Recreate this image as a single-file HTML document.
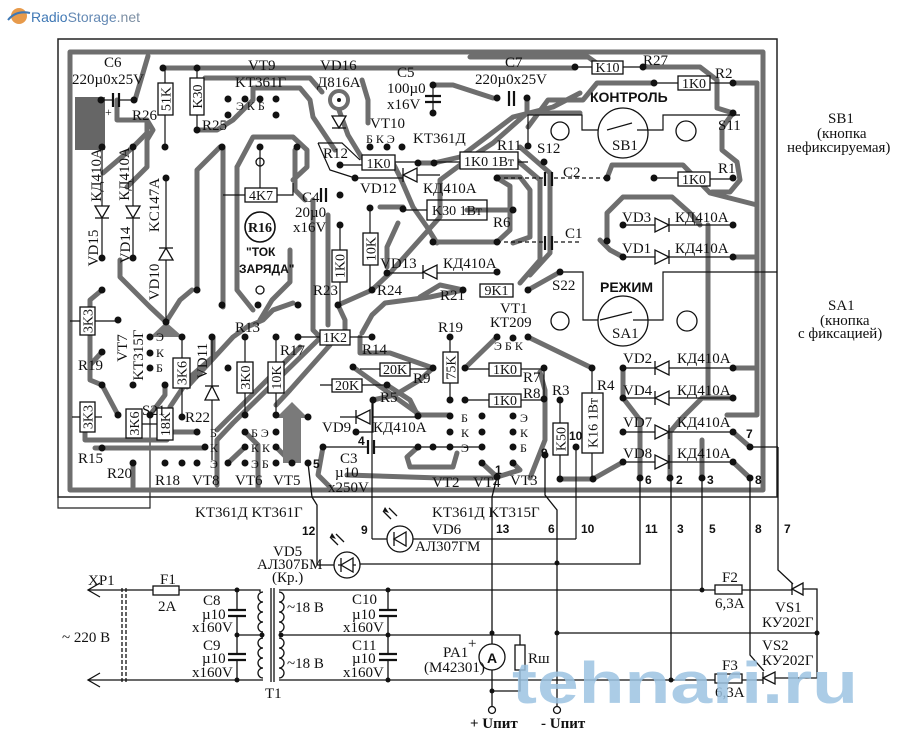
<!DOCTYPE html>
<html><head><meta charset="utf-8"><style>
html,body{margin:0;padding:0;background:#fff}
svg{display:block}
.t{font-family:"Liberation Serif","DejaVu Serif",serif;font-size:15px;fill:#111}
.s{font-family:"Liberation Serif","DejaVu Serif",serif;font-size:12px;fill:#111}
.b{font-family:"Liberation Sans","DejaVu Sans",sans-serif;font-weight:bold;font-size:14px;fill:#111}
.n{font-family:"Liberation Sans","DejaVu Sans",sans-serif;font-weight:bold;font-size:12px;fill:#111}
</style></head><body>
<svg width="909" height="737" viewBox="0 0 909 737" xmlns="http://www.w3.org/2000/svg">
<rect width="909" height="737" fill="#fff"/>
<!-- logo -->
<circle cx="19" cy="16" r="8" fill="#e79a4b"/>
<path d="M8,20 Q16,10 30,13" stroke="#3f78b5" stroke-width="2" fill="none"/>
<text x="31" y="22" font-family="Liberation Sans, sans-serif" font-size="14"><tspan fill="#3f78b5">Radio</tspan><tspan fill="#6489b4">Storage</tspan><tspan fill="#7d8fa3">.net</tspan></text>

<!-- board outline -->
<rect x="58" y="39" width="719" height="458" fill="none" stroke="#222" stroke-width="1.5"/>
<path d="M58,497 V508 H150 V415" fill="none" stroke="#222" stroke-width="1.2"/>
<rect x="75" y="97" width="30" height="53" fill="#666"/>

<!-- traces -->
<g fill="none" stroke="#6e6e6e" stroke-width="5" stroke-linejoin="round" stroke-linecap="round">
<rect x="70" y="52" width="693" height="438"/>
<path d="M757,83 V415 H727"/>
<path d="M733,83 H757"/>
<path d="M148,56 L135,100"/>
<path d="M163,68 H575"/>
<path d="M470,57 H588 L598,64"/>
<path d="M643,67 H700 L717,80 V108 L733,113"/>
<path d="M733,113 L722,128 V150 L737,162 L740,180 L730,192 H712"/>
<path d="M205,78 H310 L322,92"/>
<path d="M197,130 H217 L233,120 L253,100 V88 H300 L310,100 L313,117 L325,135 L335,150"/>
<path d="M654,83 H597 L583,100 L548,100 L528,127"/>
<circle cx="339" cy="100" r="9" stroke-width="4"/>
<path d="M339,110 L348,135 L362,158"/>
<path d="M433,85 H453 L493,98"/>
<path d="M527,100 V113 L493,143 L467,160"/>
<path d="M580,93 L553,107 L513,117 L460,157 L434,163"/>
<path d="M418,163 H434"/>
<path d="M390,273 L440,217 V180 L467,160"/>
<path d="M433,242 H497"/>
<path d="M467,210 H513"/>
<path d="M520,147 L550,173 V253 L530,275"/>
<path d="M513,157 L540,180 V260 L520,283"/>
<path d="M497,178 L510,186 V230 L497,242"/>
<path d="M607,178 L612,165 H683 L710,193 L757,205"/>
<path d="M607,240 V213 L623,197 H672 L690,213 L700,225"/>
<path d="M623,257 L610,250 L600,240"/>
<path d="M733,257 H757"/>
<path d="M733,368 H757"/>
<path d="M733,398 H702 L680,420 L670,432 V478"/>
<path d="M708,225 V398"/>
<path d="M623,398 L640,420 V478"/>
<path d="M623,368 V398"/>
<path d="M702,440 V478"/>
<path d="M733,432 L750,447"/>
<path d="M733,462 L750,478"/>
<path d="M560,479 H593 L623,462"/>
<path d="M528,337 L592,368"/>
<path d="M497,337 L465,368"/>
<path d="M540,372 L545,390 V440 L530,478"/>
<path d="M463,290 L430,297 L385,303 L372,315 L362,333"/>
<path d="M528,290 L560,272"/>
<path d="M360,337 V353 H390 L433,368"/>
<path d="M353,367 L420,415 H450"/>
<path d="M418,447 L407,457 L410,467 H453 L457,453"/>
<path d="M347,475 L440,478 H493"/>
<path d="M482,463 L497,477"/>
<path d="M513,463 L520,470 L497,477"/>
<path d="M133,147 L147,133 V120"/>
<path d="M103,173 L130,150"/>
<path d="M117,100 V120 H147 L153,130 L147,140 V167 L127,187"/>
<path d="M120,260 V277 L150,307 L166,322"/>
<path d="M197,290 V170 L220,147"/>
<path d="M223,147 V307"/>
<path d="M237,167 L253,137 H293 L307,150 V167 L293,180"/>
<path d="M237,167 V290 L253,310"/>
<path d="M290,250 V282 L272,300 L260,320"/>
<path d="M313,200 V330 L320,337"/>
<path d="M328,215 V325"/>
<path d="M338,305 L372,290"/>
<path d="M372,290 L390,273"/>
<path d="M318,340 L233,423 L217,440 V485"/>
<path d="M300,347 L217,430"/>
<path d="M330,345 L290,390 L276,405"/>
<path d="M187,387 L233,337 L247,327 L263,320 L273,310 L293,303"/>
<path d="M170,407 L190,377 L213,357 V337"/>
<path d="M102,385 L118,415"/>
<path d="M85,432 V440 H167"/>
<path d="M95,448 H205"/>
<path d="M167,432 H197"/>
<path d="M133,463 V487"/>
<path d="M102,290 L90,300 V380 L102,385"/>
<path d="M166,322 L180,300 L192,290"/>
<path d="M245,432 L258,445 V487"/>
<path d="M228,463 L245,447"/>
<path d="M292,463 L276,447"/>
<path d="M323,447 L318,475 L330,487"/>
<path d="M373,400 L395,395 L420,380 L433,368"/>
<path d="M387,385 L410,400 L418,416"/>
<path d="M338,305 L345,320 V330"/>
<path d="M102,352 L90,365"/>
<path d="M150,415 L165,395 V385"/>
<path d="M362,80 L368,100 V123"/>
<path d="M390,157 L400,177 L413,207 L427,227 L437,243"/>
<path d="M497,177 H520 L530,190 V237 L513,243"/>
<path d="M537,113 H580"/>
<path d="M380,207 H403"/>
<path d="M398,223 L387,247 V267"/>
<path d="M295,150 V190 L305,200"/>
<path d="M420,297 L440,285 L463,290"/>
</g>
<!-- gray filled shapes -->
<polygon points="283,463 283,418 276,418 292,402 308,418 301,418 301,463" fill="#7a7a7a"/>
<polygon points="150,337 166,322 183,337" fill="#7a7a7a"/>

<!-- thin wires on board -->
<g fill="none" stroke="#111" stroke-width="1.2">
<path d="M118,100 H134"/><path d="M101,100 H113"/>
<path d="M102,147 V258"/><path d="M133,147 V258"/>
<path d="M166,178 V322"/>
<path d="M212,337 V460"/>
<path d="M182,337 V358 M182,388 V417"/>
<path d="M165,115 V147 M165,68 V83"/>
<path d="M197,68 V78 M197,115 V130"/>
<path d="M260,147 V188"/><path d="M223,195 H245 M277,195 H293 V183"/>
<path d="M245,337 V362 M245,393 V415"/>
<path d="M276,337 V362 M276,393 V415"/>
<path d="M340,225 V250 M340,282 V305"/>
<path d="M370,208 V233 M370,265 V290"/>
<path d="M350,337 H372 M298,337 H320"/>
<path d="M360,369 H380 M410,369 H433"/>
<path d="M320,385 H332 M362,385 H387"/>
<path d="M450,337 V352 M450,383 V400"/>
<path d="M465,369 H489 M521,369 H544"/>
<path d="M465,400 H489 M521,400 H544 V368"/>
<path d="M560,400 V423 M560,455 V479"/>
<path d="M592,368 V393 M592,453 V479"/>
<path d="M576,447 V539"/>
<path d="M372,400 V539"/>
<path d="M323,447 H368 M373,447 H482"/>
<path d="M373,400 V432 L356,432"/>
<path d="M340,417 H356 M372,417 H420"/>
<path d="M387,273 H423 M437,273 H497"/>
<path d="M355,178 H403 M417,175 H440"/>
<path d="M340,165 H362 M395,162 H418"/>
<path d="M318,143 H342 L360,160 M318,143 L330,170 L355,178"/>
<path d="M433,85 V113"/>
<path d="M513,162 H528 M433,162 H460"/>
<path d="M427,210 H403"/>
<path d="M497,242 H545 M554,242 H580" stroke-dasharray="4 3"/>
<path d="M497,178 H545 M554,178 H607" stroke-dasharray="4 3"/>
<path d="M623,225 H655 M669,225 H733"/>
<path d="M623,257 H655 M669,257 H733"/>
<path d="M623,368 H655 M669,368 H733"/>
<path d="M623,398 H655 M669,398 H733"/>
<path d="M623,432 H655 M669,432 H733"/>
<path d="M623,462 H655 M669,462 H733"/>
<path d="M654,178 H678 M710,179 H733"/>
<path d="M654,83 H678 M710,83 H733"/>
<path d="M575,67 H592 M623,67 H643"/>
<path d="M528,147 V115 H582 V130 H598 M607,130 L632,123 M637,130 H663 V115 H740"/>
<path d="M560,272 H583 V320 H598 M600,320 L632,312 M633,320 H663 V272 H777"/>
<path d="M750,447 H778"/>
<path d="M80,321 H70 M95,321 H118 M80,417 H72 M95,417 H102 M134,424 H150 M142,424 L157,424"/>
</g>
<!-- capacitors on board -->
<g stroke="#111" stroke-width="2.2">
<path d="M113,93 V107 M119,93 V107"/>
<path d="M509,91 V106 M514,91 V106"/>
<path d="M425,96 H441 M425,102 H441"/>
<path d="M545,236 V250 M552,236 V250"/>
<path d="M545,172 V186 M552,172 V186"/>
<path d="M321,188 V202 M326,188 V202"/>
<path d="M368,440 V454 M374,440 V454"/>
</g>
<!-- diodes -->
<g fill="#fff" stroke="#111" stroke-width="1.3">
<polygon points="95,206 109,206 102,218"/><path d="M95,218 H109"/>
<polygon points="126,206 140,206 133,218"/><path d="M126,218 H140"/>
<polygon points="159,260 173,260 166,248"/><path d="M159,248 H173"/>
<polygon points="205,400 219,400 212,386"/><path d="M205,386 H219"/>
<polygon points="332,116 346,116 339,128"/><path d="M332,128 H346"/>
<polygon points="417,168 417,182 403,175"/><path d="M403,168 V182"/>
<polygon points="437,265 437,279 423,272"/><path d="M423,265 V279"/>
<polygon points="370,410 370,424 356,417"/><path d="M356,410 V424"/>
<polygon points="655,218 655,232 669,225"/><path d="M669,218 V232"/>
<polygon points="655,250 655,264 669,257"/><path d="M669,250 V264"/>
<polygon points="669,361 669,375 655,368"/><path d="M655,361 V375"/>
<polygon points="669,391 669,405 655,398"/><path d="M655,391 V405"/>
<polygon points="655,425 655,439 669,432"/><path d="M669,425 V439"/>
<polygon points="655,455 655,469 669,462"/><path d="M669,455 V469"/>
</g>
<!-- switches / circles -->
<g fill="none" stroke="#111" stroke-width="1.3">
<circle cx="623" cy="133" r="25"/><circle cx="560" cy="131" r="9"/><circle cx="686" cy="131" r="10"/>
<circle cx="623" cy="321" r="25"/><circle cx="560" cy="321" r="9"/><circle cx="687" cy="321" r="10"/>
<circle cx="260" cy="227" r="15" stroke-width="1.6"/>
<circle cx="260" cy="162" r="4"/><circle cx="260" cy="290" r="4"/>
</g>
<!-- component rects -->
<g fill="#fff" stroke="#111" stroke-width="1.3">
<rect x="592" y="61" width="31" height="13"/>
<rect x="678" y="76" width="32" height="14"/>
<rect x="678" y="172" width="32" height="14"/>
<rect x="362" y="155" width="33" height="15"/>
<rect x="460" y="152" width="58" height="17"/>
<rect x="427" y="200" width="60" height="20" fill="none"/>
<rect x="245" y="188" width="32" height="14"/>
<rect x="480" y="284" width="33" height="13"/>
<rect x="320" y="330" width="30" height="15"/>
<rect x="380" y="363" width="30" height="13"/>
<rect x="332" y="379" width="30" height="13"/>
<rect x="489" y="363" width="32" height="13"/>
<rect x="489" y="394" width="32" height="13"/>
<rect x="158" y="83" width="15" height="32"/>
<rect x="190" y="78" width="14" height="37"/>
<rect x="80" y="307" width="15" height="28"/>
<rect x="80" y="402" width="15" height="30"/>
<rect x="126" y="409" width="16" height="29"/>
<rect x="157" y="408" width="16" height="32"/>
<rect x="173" y="358" width="17" height="30"/>
<rect x="237" y="362" width="16" height="31"/>
<rect x="268" y="362" width="16" height="31"/>
<rect x="332" y="250" width="15" height="32"/>
<rect x="363" y="233" width="15" height="32"/>
<rect x="443" y="352" width="15" height="31"/>
<rect x="553" y="423" width="15" height="32"/>
<rect x="582" y="393" width="21" height="60"/>
</g>
<!-- pads -->
<g fill="#111">
<circle cx="101" cy="100" r="3.5"/><circle cx="134" cy="100" r="3.5"/><circle cx="163" cy="68" r="3.5"/><circle cx="197" cy="68" r="3.5"/><circle cx="197" cy="130" r="3.5"/><circle cx="165" cy="147" r="3.5"/>
<circle cx="228" cy="99" r="3.5"/><circle cx="245" cy="99" r="3.5"/><circle cx="260" cy="99" r="3.5"/><circle cx="276" cy="99" r="3.5"/><circle cx="228" cy="115" r="3.5"/><circle cx="276" cy="115" r="3.5"/>
<circle cx="102" cy="147" r="3.5"/><circle cx="133" cy="147" r="3.5"/><circle cx="166" cy="178" r="3.5"/><circle cx="222" cy="147" r="3.5"/><circle cx="260" cy="147" r="3.5"/><circle cx="297" cy="147" r="3.5"/>
<circle cx="102" cy="258" r="3.5"/><circle cx="133" cy="258" r="3.5"/><circle cx="102" cy="290" r="3.5"/><circle cx="118" cy="320" r="3.5"/><circle cx="102" cy="352" r="3.5"/>
<circle cx="150" cy="337" r="3.5"/><circle cx="150" cy="353" r="3.5"/><circle cx="150" cy="368" r="3.5"/><circle cx="182" cy="337" r="3.5"/><circle cx="166" cy="322" r="3.5"/>
<circle cx="102" cy="385" r="3.5"/><circle cx="133" cy="385" r="3.5"/><circle cx="165" cy="385" r="3.5"/><circle cx="118" cy="415" r="3.5"/><circle cx="150" cy="415" r="3.5"/><circle cx="182" cy="417" r="3.5"/>
<circle cx="102" cy="448" r="3.5"/><circle cx="133" cy="463" r="3.5"/><circle cx="165" cy="463" r="3.5"/><circle cx="182" cy="463" r="3.5"/><circle cx="197" cy="432" r="3.5"/><circle cx="205" cy="447" r="3.5"/><circle cx="197" cy="463" r="3.5"/>
<circle cx="212" cy="337" r="3.5"/><circle cx="197" cy="290" r="3.5"/><circle cx="222" cy="305" r="3.5"/><circle cx="228" cy="368" r="3.5"/><circle cx="245" cy="337" r="3.5"/><circle cx="245" cy="415" r="3.5"/>
<circle cx="276" cy="337" r="3.5"/><circle cx="276" cy="415" r="3.5"/><circle cx="258" cy="305" r="3.5"/><circle cx="298" cy="305" r="3.5"/><circle cx="298" cy="337" r="3.5"/>
<circle cx="245" cy="432" r="3.5"/><circle cx="245" cy="447" r="3.5"/><circle cx="245" cy="463" r="3.5"/><circle cx="228" cy="463" r="3.5"/><circle cx="276" cy="432" r="3.5"/><circle cx="276" cy="447" r="3.5"/><circle cx="276" cy="463" r="3.5"/><circle cx="292" cy="463" r="3.5"/><circle cx="308" cy="417" r="3.5"/><circle cx="308" cy="463" r="3.5"/>
<circle cx="338" cy="305" r="3.5"/><circle cx="372" cy="290" r="3.5"/><circle cx="387" cy="273" r="3.5"/><circle cx="497" cy="272" r="3.5"/><circle cx="340" cy="195" r="3.5"/><circle cx="340" cy="225" r="3.5"/><circle cx="370" cy="208" r="3.5"/><circle cx="372" cy="337" r="3.5"/>
<circle cx="323" cy="447" r="3.5"/><circle cx="373" cy="400" r="3.5"/><circle cx="356" cy="432" r="3.5"/><circle cx="353" cy="367" r="3.5"/><circle cx="387" cy="385" r="3.5"/><circle cx="433" cy="368" r="3.5"/><circle cx="450" cy="337" r="3.5"/><circle cx="465" cy="368" r="3.5"/>
<circle cx="497" cy="337" r="3.5"/><circle cx="513" cy="338" r="3.5"/><circle cx="528" cy="337" r="3.5"/><circle cx="544" cy="368" r="3.5"/><circle cx="544" cy="399" r="3.5"/><circle cx="560" cy="400" r="3.5"/><circle cx="592" cy="368" r="3.5"/>
<circle cx="450" cy="400" r="3.5"/><circle cx="465" cy="400" r="3.5"/><circle cx="418" cy="416" r="3.5"/><circle cx="450" cy="416" r="3.5"/><circle cx="450" cy="432" r="3.5"/><circle cx="450" cy="447" r="3.5"/><circle cx="433" cy="447" r="3.5"/><circle cx="418" cy="447" r="3.5"/>
<circle cx="482" cy="416" r="3.5"/><circle cx="482" cy="432" r="3.5"/><circle cx="482" cy="447" r="3.5"/><circle cx="482" cy="463" r="3.5"/><circle cx="513" cy="416" r="3.5"/><circle cx="513" cy="432" r="3.5"/><circle cx="513" cy="447" r="3.5"/><circle cx="513" cy="463" r="3.5"/>
<circle cx="497" cy="477" r="3.5"/><circle cx="545" cy="455" r="3.5"/><circle cx="576" cy="447" r="3.5"/><circle cx="560" cy="479" r="3.5"/><circle cx="593" cy="479" r="3.5"/>
<circle cx="623" cy="225" r="3.5"/><circle cx="623" cy="257" r="3.5"/><circle cx="733" cy="225" r="3.5"/><circle cx="733" cy="257" r="3.5"/>
<circle cx="623" cy="368" r="3.5"/><circle cx="623" cy="398" r="3.5"/><circle cx="623" cy="432" r="3.5"/><circle cx="623" cy="462" r="3.5"/>
<circle cx="733" cy="368" r="3.5"/><circle cx="733" cy="398" r="3.5"/><circle cx="733" cy="432" r="3.5"/><circle cx="733" cy="462" r="3.5"/>
<circle cx="750" cy="447" r="3.5"/><circle cx="640" cy="478" r="3.5"/><circle cx="670" cy="478" r="3.5"/><circle cx="702" cy="478" r="3.5"/><circle cx="750" cy="478" r="3.5"/>
<circle cx="733" cy="83" r="3.5"/><circle cx="733" cy="113" r="3.5"/><circle cx="733" cy="178" r="3.5"/><circle cx="654" cy="83" r="3.5"/><circle cx="643" cy="67" r="3.5"/><circle cx="575" cy="67" r="3.5"/>
<circle cx="497" cy="98" r="3.5"/><circle cx="527" cy="98" r="3.5"/><circle cx="433" cy="85" r="3.5"/><circle cx="433" cy="113" r="3.5"/><circle cx="418" cy="163" r="3.5"/><circle cx="434" cy="163" r="3.5"/>
<circle cx="528" cy="146" r="3.5"/><circle cx="544" cy="162" r="3.5"/><circle cx="497" cy="178" r="3.5"/><circle cx="513" cy="210" r="3.5"/><circle cx="433" cy="242" r="3.5"/><circle cx="497" cy="242" r="3.5"/>
<circle cx="607" cy="178" r="3.5"/><circle cx="607" cy="241" r="3.5"/><circle cx="654" cy="178" r="3.5"/><circle cx="463" cy="290" r="3.5"/><circle cx="528" cy="290" r="3.5"/><circle cx="560" cy="272" r="3.5"/>
<circle cx="370" cy="147" r="3.5"/><circle cx="387" cy="147" r="3.5"/><circle cx="402" cy="147" r="3.5"/><circle cx="340" cy="165" r="3.5"/><circle cx="355" cy="178" r="3.5"/><circle cx="403" cy="209" r="3.5"/>
<circle cx="339" cy="100" r="2"/>
</g>

<!-- board labels -->
<g class="t">
<text x="104" y="67">C6</text>
<text x="72" y="84">220µ0x25V</text>
<text x="105" y="116" class="s">+</text>
<text x="132" y="120">R26</text>
<text x="202" y="130">R25</text>
<text x="248" y="70">VT9</text>
<text x="235" y="87">KT361Г</text>
<text x="320" y="70">VD16</text>
<text x="317" y="87">Д816А</text>
<text x="397" y="77">C5</text>
<text x="387" y="93">100µ0</text>
<text x="387" y="109">x16V</text>
<text x="370" y="128">VT10</text>
<text x="366" y="143" class="s">Б  К  Э</text>
<text x="413" y="143">KT361Д</text>
<text x="323" y="158">R12</text>
<text x="360" y="193">VD12</text>
<text x="423" y="193">КД410А</text>
<text x="497" y="150">R11</text>
<text x="537" y="153">S12</text>
<text x="493" y="227">R6</text>
<text x="302" y="202">C4</text>
<text x="295" y="217">20µ0</text>
<text x="293" y="232">x16V</text>
<text x="505" y="67">C7</text>
<text x="475" y="84">220µ0x25V</text>
<text x="643" y="65">R27</text>
<text x="715" y="78">R2</text>
<text x="718" y="130">S11</text>
<text x="612" y="150">SB1</text>
<text x="563" y="177">C2</text>
<text x="718" y="173">R1</text>
<text x="622" y="222">VD3</text><text x="675" y="222">КД410А</text>
<text x="565" y="238">C1</text>
<text x="622" y="253">VD1</text><text x="675" y="253">КД410А</text>
<text x="380" y="268">VD13</text><text x="443" y="268">КД410А</text>
<text x="313" y="295">R23</text>
<text x="377" y="295">R24</text>
<text x="440" y="300">R21</text>
<text x="552" y="290">S22</text>
<text x="612" y="338">SA1</text>
<text x="500" y="313">VT1</text>
<text x="490" y="327">КТ209</text>
<text x="494" y="350" class="s">Э  Б  К</text>
<text x="438" y="332">R19</text>
<text x="235" y="332">R13</text>
<text x="280" y="355">R17</text>
<text x="362" y="354">R14</text>
<text x="413" y="383">R9</text>
<text x="380" y="402">R5</text>
<text x="523" y="382">R7</text>
<text x="523" y="398">R8</text>
<text x="552" y="395">R3</text>
<text x="597" y="390">R4</text>
<text x="623" y="363">VD2</text><text x="677" y="363">КД410А</text>
<text x="623" y="395">VD4</text><text x="677" y="395">КД410А</text>
<text x="623" y="427">VD7</text><text x="677" y="427">КД410А</text>
<text x="623" y="458">VD8</text><text x="677" y="458">КД410А</text>
<text x="322" y="432">VD9</text><text x="373" y="432">КД410А</text>
<text x="340" y="463">C3</text>
<text x="335" y="477">µ10</text>
<text x="328" y="492">x250V</text>
<text x="78" y="370">R19</text>
<text x="78" y="463">R15</text>
<text x="107" y="478">R20</text>
<text x="142" y="415">S21</text>
<text x="185" y="422">R22</text>
<text x="155" y="485">R18</text>
<text x="192" y="485">VT8</text>
<text x="235" y="485">VT6</text>
<text x="273" y="485">VT5</text>
<text x="432" y="487">VT2</text>
<text x="473" y="487">VT4</text>
<text x="510" y="485">VT3</text>
<text x="461" y="422" class="s">Б</text><text x="461" y="437" class="s">К</text><text x="461" y="452" class="s">Э</text>
<text x="520" y="422" class="s">Э</text><text x="520" y="437" class="s">К</text><text x="520" y="452" class="s">Б</text>
<text x="210" y="437" class="s">Б</text><text x="210" y="452" class="s">К</text><text x="210" y="468" class="s">Э</text>
<text x="251" y="437" class="s">Б Э</text><text x="251" y="452" class="s">К К</text><text x="251" y="468" class="s">Э Б</text>
<text x="156" y="341" class="s">Э</text><text x="156" y="357" class="s">К</text><text x="156" y="372" class="s">Б</text>
<text x="236" y="110" class="s">Э  К  Б</text>
<text x="195" y="517">KT361Д  KT361Г</text>
<text x="432" y="517">KT361Д  KT315Г</text>
<!-- right side -->
<text x="828" y="123">SB1</text>
<text x="817" y="138">(кнопка</text>
<text x="787" y="152">нефиксируемая)</text>
<text x="828" y="310">SA1</text>
<text x="820" y="325">(кнопка</text>
<text x="798" y="338">с фиксацией)</text>
</g>
<!-- rotated labels -->
<g class="t">
<text transform="translate(96,175) rotate(-90)" text-anchor="middle" dy="5">КД410А</text>
<text transform="translate(93,248) rotate(-90)" text-anchor="middle" dy="5">VD15</text>
<text transform="translate(124,174) rotate(-90)" text-anchor="middle" dy="5">КД410А</text>
<text transform="translate(125,245) rotate(-90)" text-anchor="middle" dy="5">VD14</text>
<text transform="translate(154,205) rotate(-90)" text-anchor="middle" dy="5">KC147A</text>
<text transform="translate(154,282) rotate(-90)" text-anchor="middle" dy="5">VD10</text>
<text transform="translate(122,348) rotate(-90)" text-anchor="middle" dy="5">VT7</text>
<text transform="translate(138,355) rotate(-90)" text-anchor="middle" dy="5">KT315Г</text>
<text transform="translate(202,361) rotate(-90)" text-anchor="middle" dy="5">VD11</text>
</g>
<!-- rect labels -->
<g class="t" font-size="14" text-anchor="middle">
<text x="607.5" y="72" font-size="14">K10</text>
<text x="694" y="88" font-size="14">1K0</text>
<text x="694" y="184" font-size="14">1K0</text>
<text x="378.5" y="168" font-size="14">1K0</text>
<text x="489" y="166" font-size="14">1K0 1Вт</text>
<text x="457" y="215" font-size="14">K30 1Вт</text>
<text x="261" y="200" font-size="14">4K7</text>
<text x="496.5" y="295" font-size="14">9K1</text>
<text x="335" y="342" font-size="14">1K2</text>
<text x="395" y="374" font-size="14">20K</text>
<text x="347" y="390" font-size="14">20K</text>
<text x="505" y="374" font-size="14">1K0</text>
<text x="505" y="405" font-size="14">1K0</text>
<text transform="translate(165.5,99) rotate(-90)" dy="5" font-size="14">51K</text>
<text transform="translate(197,96.5) rotate(-90)" dy="5" font-size="14">K30</text>
<text transform="translate(87.5,321) rotate(-90)" dy="5" font-size="14">3K3</text>
<text transform="translate(87.5,417) rotate(-90)" dy="5" font-size="14">3K3</text>
<text transform="translate(134,423.5) rotate(-90)" dy="5" font-size="14">3K6</text>
<text transform="translate(165,424) rotate(-90)" dy="5" font-size="14">18K</text>
<text transform="translate(181.5,373) rotate(-90)" dy="5" font-size="14">3K6</text>
<text transform="translate(245,377.5) rotate(-90)" dy="5" font-size="14">3K0</text>
<text transform="translate(276,377.5) rotate(-90)" dy="5" font-size="14">10K</text>
<text transform="translate(339.5,266) rotate(-90)" dy="5" font-size="14">1K0</text>
<text transform="translate(370.5,249) rotate(-90)" dy="5" font-size="14">10K</text>
<text transform="translate(450.5,367.5) rotate(-90)" dy="5" font-size="14">75K</text>
<text transform="translate(560.5,439) rotate(-90)" dy="5" font-size="14">K50</text>
<text transform="translate(592.5,423) rotate(-90)" dy="5" font-size="14">K16 1Вт</text>
</g>
<text x="260" y="232" text-anchor="middle" font-family="Liberation Serif, serif" font-weight="bold" font-size="14" fill="#111">R16</text>
<text x="246" y="256" class="n">"ТОК</text>
<text x="239" y="273" class="n">ЗАРЯДА"</text>
<text x="590" y="102" class="b">КОНТРОЛЬ</text>
<text x="600" y="292" class="b">РЕЖИМ</text>
<g class="n" font-size="13">
<text x="358" y="445">4</text><text x="313" y="468">5</text><text x="495" y="474">1</text>
<text x="541" y="457">9</text><text x="569" y="440">10</text>
<text x="645" y="484">6</text><text x="676" y="484">2</text><text x="707" y="484">3</text><text x="755" y="484">8</text><text x="746" y="438">7</text>
</g>

<!-- lower schematic -->
<g fill="none" stroke="#111" stroke-width="1.3">
<path d="M308,463 L312,497 L317,505 V565 H334"/>
<path d="M360,564 H640 V478"/>
<path d="M372,539 H387 M413,539 H576"/>
<path d="M497,477 L492,497 V706"/>
<path d="M545,455 V495 L557,510 V706"/>
<path d="M671,478 V678"/>
<path d="M702,478 V589"/>
<path d="M750,478 V655 L764,671"/>
<path d="M778,447 V570 L793,584"/>
<path d="M88,590 H153 M179,590 H260 V592"/>
<path d="M100,583 L88,590 L100,597"/>
<path d="M88,680 H263"/>
<path d="M100,673 L88,680 L100,687"/>
<path d="M122,588 V682 M126,588 V682" stroke-dasharray="4 2"/>
<path d="M237,590 V610 M237,616 V654 M237,660 V680"/>
<path d="M237,635 H262"/>
<path d="M263,592 a5,5 0 0 0 0,10 a5,5 0 0 0 0,10 a5,5 0 0 0 0,10 a5,5 0 0 0 0,10"/>
<path d="M263,638 a5,5 0 0 0 0,10 a5,5 0 0 0 0,10 a5,5 0 0 0 0,10 a5,5 0 0 0 0,10"/>
<path d="M271,588 V682 M274,588 V682"/>
<path d="M279,592 a5,5 0 0 1 0,10 a5,5 0 0 1 0,10 a5,5 0 0 1 0,10 a5,5 0 0 1 0,10"/>
<path d="M279,638 a5,5 0 0 1 0,10 a5,5 0 0 1 0,10 a5,5 0 0 1 0,10 a5,5 0 0 1 0,10"/>
<path d="M279,590 H715 M742,590 H792 M803,589 H817 V678 H775"/>
<path d="M281,635 H520 V645 M520,670 V691 H492"/>
<path d="M557,633 H817"/>
<path d="M279,680 H715 M742,680 H763"/>
<path d="M388,590 V610 M388,616 V654 M388,660 V680"/>
<rect x="153" y="586" width="26" height="9"/>
<rect x="715" y="585" width="27" height="9"/>
<rect x="715" y="674" width="27" height="9"/>
<rect x="515" y="645" width="10" height="25" fill="#fff"/>
<circle cx="347" cy="565" r="13" fill="#fff"/>
<circle cx="400" cy="539" r="13" fill="#fff"/>
<circle cx="492" cy="657" r="13" fill="#fff"/>
<circle cx="492" cy="710" r="3.5" fill="#fff"/>
<circle cx="557" cy="710" r="3.5" fill="#fff"/>
<path d="M338,565 H356 M406,539 H394"/>
<path d="M338,545 L330,537 M344,542 L336,534"/>
<path d="M391,519 L383,511 M397,516 L389,508"/>
</g>
<g stroke="#111" stroke-width="2.2">
<path d="M228,610 H246 M228,616 H246 M228,654 H246 M228,660 H246"/>
<path d="M379,610 H397 M379,616 H397 M379,654 H397 M379,660 H397"/>
</g>
<g fill="#fff" stroke="#111" stroke-width="1.3">
<polygon points="353,558 353,572 341,565"/><path d="M341,558 V572"/>
<polygon points="406,532 406,546 394,539"/><path d="M394,532 V546"/>
<polygon points="792,589 803,583 803,595"/><path d="M792,583 V595"/>
<polygon points="763,678 775,672 775,684"/><path d="M763,672 V684"/>
</g>
<g fill="#111">
<polygon points="330,537 336,539 332,533"/><polygon points="383,511 389,513 385,507"/>
<circle cx="237" cy="590" r="2.5"/><circle cx="237" cy="635" r="2.5"/><circle cx="237" cy="680" r="2.5"/>
<circle cx="262" cy="635" r="2.5"/><circle cx="281" cy="635" r="2.5"/>
<circle cx="388" cy="590" r="2.5"/><circle cx="388" cy="635" r="2.5"/><circle cx="388" cy="680" r="2.5"/>
<circle cx="492" cy="633" r="2.5"/><circle cx="492" cy="691" r="2.5"/><circle cx="557" cy="633" r="2.5"/><circle cx="557" cy="563" r="2.5"/>
<circle cx="702" cy="590" r="2.5"/><circle cx="671" cy="680" r="2.5"/><circle cx="817" cy="633" r="2.5"/>
</g>
<text x="492" y="663" text-anchor="middle" font-family="Liberation Sans, sans-serif" font-weight="bold" font-size="14" fill="#111">A</text>
<g class="t">
<text x="88" y="585">XP1</text>
<text x="160" y="584">F1</text>
<text x="158" y="611">2A</text>
<text x="62" y="642">~ 220 B</text>
<text x="203" y="605">C8</text><text x="202" y="619">µ10</text><text x="192" y="632">x160V</text>
<text x="203" y="650">C9</text><text x="202" y="663">µ10</text><text x="192" y="677">x160V</text>
<text x="287" y="612">~18 B</text><text x="287" y="668">~18 B</text>
<text x="265" y="698">T1</text>
<text x="352" y="604">C10</text><text x="352" y="619">µ10</text><text x="343" y="632">x160V</text>
<text x="352" y="650">C11</text><text x="352" y="663">µ10</text><text x="343" y="677">x160V</text>
<text x="273" y="556">VD5</text><text x="257" y="569">АЛ307БМ</text><text x="272" y="582">(Кр.)</text>
<text x="432" y="534">VD6</text><text x="415" y="551">АЛ307ГМ</text>
<text x="443" y="657">PA1</text><text x="424" y="672">(M42301)</text>
<text x="468" y="648">+</text>
<text x="528" y="663">Rш</text>
<text x="722" y="582">F2</text><text x="715" y="608">6,3A</text>
<text x="722" y="670">F3</text><text x="715" y="697">6,3A</text>
<text x="775" y="612">VS1</text><text x="762" y="627">КУ202Г</text>
<text x="762" y="650">VS2</text><text x="762" y="665">КУ202Г</text>
<text x="470" y="728" font-weight="bold">+ Uпит</text>
<text x="541" y="728" font-weight="bold">- Uпит</text>
</g>
<g class="n">
<text x="302" y="535">12</text><text x="361" y="534">9</text><text x="496" y="533">13</text><text x="548" y="533">6</text><text x="581" y="533">10</text>
<text x="645" y="533">11</text><text x="677" y="533">3</text><text x="709" y="533">5</text><text x="755" y="533">8</text><text x="784" y="533">7</text>
</g>
<!-- watermark -->
<text x="512" y="703" textLength="346" lengthAdjust="spacingAndGlyphs" font-family="Liberation Sans, sans-serif" font-weight="bold" font-size="58" fill="#9cc3e2" fill-opacity="0.85">tehnari.ru</text>
</svg>
</body></html>
